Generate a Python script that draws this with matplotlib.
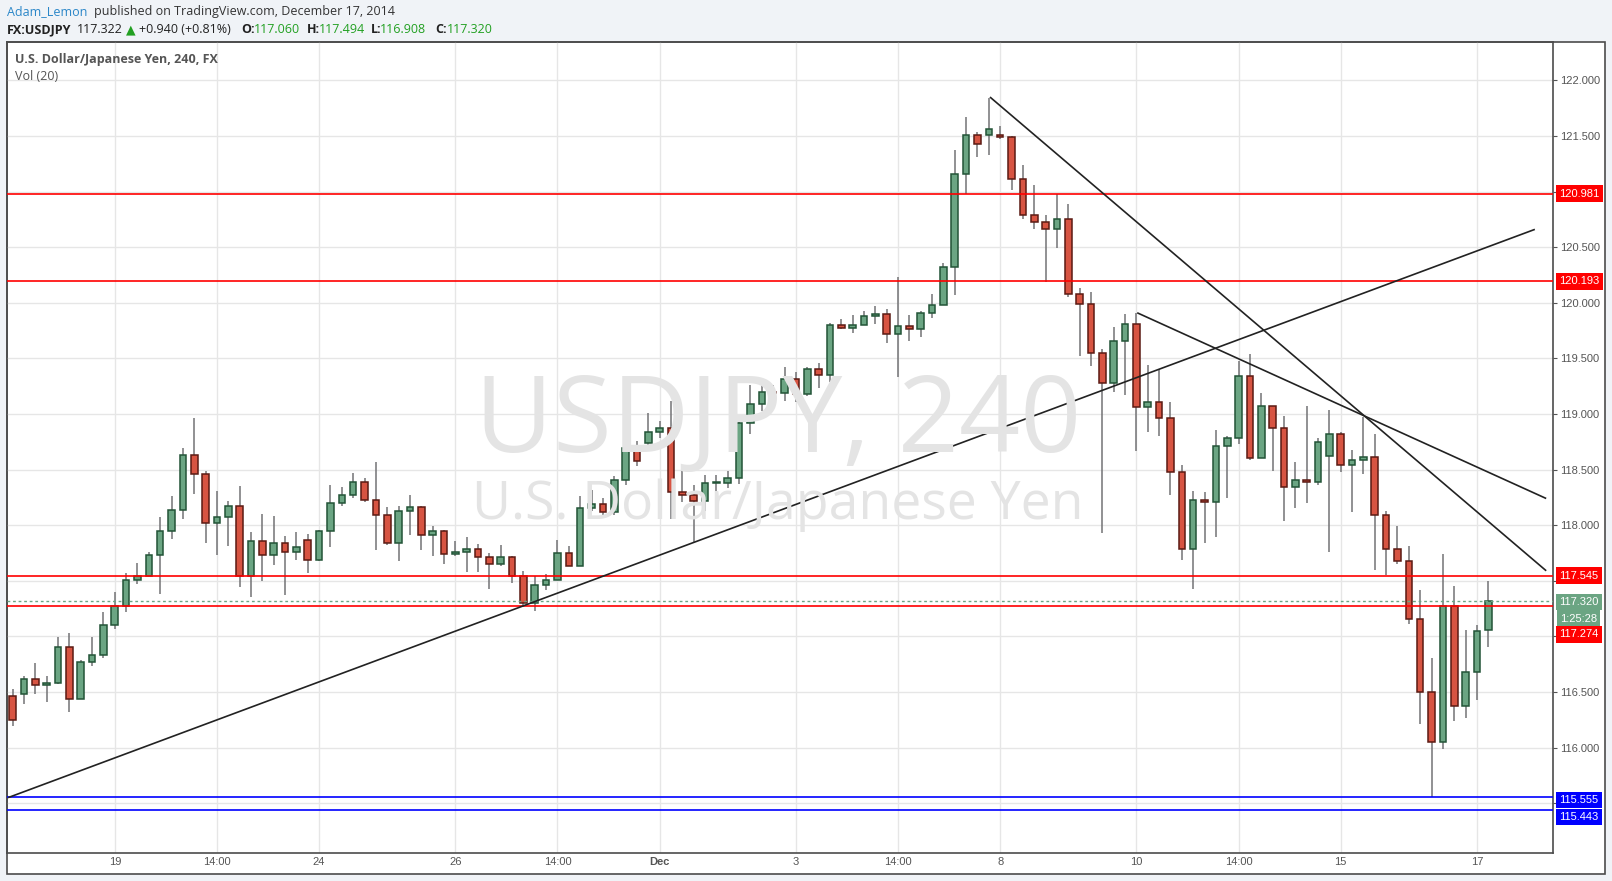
import matplotlib
matplotlib.use("Agg")
import matplotlib.pyplot as plt
import matplotlib.transforms as mtransforms
from matplotlib.patches import Rectangle

# 4h candles of USD/JPY (index 0 = leftmost candle)
opens = [116.46, 116.48, 116.62, 116.56, 116.58, 116.90, 116.44, 116.77, 116.83, 117.10,
         117.27, 117.51, 117.54, 117.73, 117.95, 118.14, 118.63, 118.46, 118.02, 118.07,
         118.17, 117.54, 117.86, 117.73, 117.84, 117.76, 117.87, 117.69, 117.95, 118.20,
         118.27, 118.39, 118.23, 118.09, 117.84, 118.13, 118.16, 117.91, 117.95, 117.74,
         117.76, 117.79, 117.71, 117.65, 117.71, 117.54, 117.30, 117.46, 117.51, 117.75,
         117.63, 118.15, 118.19, 118.12, 118.41, 118.69, 118.74, 118.84, 118.87, 118.30,
         118.27, 118.22, 118.38, 118.38, 118.42, 118.92, 119.09, 119.20, 119.19, 119.31,
         119.18, 119.40, 119.35, 119.80, 119.77, 119.80, 119.88, 119.90, 119.72, 119.79,
         119.76, 119.91, 119.98, 120.32, 121.16, 121.51, 121.51, 121.51, 121.49, 121.11,
         120.79, 120.73, 120.66, 120.75, 120.08, 119.99, 119.55, 119.28, 119.66, 119.81,
         119.06, 119.11, 118.96, 118.48, 117.79, 118.23, 118.21, 118.71, 118.78, 119.34,
         118.60, 119.07, 118.87, 118.34, 118.41, 118.39, 118.62, 118.82, 118.54, 118.59,
         118.61, 118.09, 117.79, 117.68, 117.16, 116.50, 116.05, 117.27, 116.37, 116.68,
         117.06]
highs = [116.53, 116.64, 116.76, 116.64, 116.99, 117.03, 116.79, 116.99, 117.22, 117.40,
         117.57, 117.66, 117.76, 118.07, 118.26, 118.69, 118.96, 118.49, 118.31, 118.22,
         118.35, 117.94, 118.10, 118.08, 117.90, 117.94, 117.92, 117.96, 118.36, 118.34,
         118.47, 118.42, 118.57, 118.16, 118.17, 118.27, 118.17, 117.99, 117.96, 117.86,
         117.89, 117.83, 117.75, 117.82, 117.72, 117.59, 117.54, 117.56, 117.87, 117.81,
         118.26, 118.32, 118.24, 118.44, 118.75, 118.76, 119.01, 118.94, 119.12, 118.51,
         118.36, 118.45, 118.45, 118.49, 118.93, 119.26, 119.27, 119.26, 119.42, 119.38,
         119.42, 119.46, 119.82, 119.85, 119.89, 119.93, 119.97, 119.94, 120.23, 119.89,
         119.93, 120.08, 120.36, 121.37, 121.67, 121.54, 121.84, 121.59, 121.50, 121.24,
         121.06, 120.79, 120.98, 120.89, 120.13, 120.10, 119.58, 119.78, 119.90, 119.91,
         119.44, 119.40, 119.11, 118.54, 118.31, 118.30, 118.86, 118.80, 119.48, 119.54,
         119.19, 119.07, 118.98, 118.57, 119.07, 118.78, 119.04, 118.84, 118.68, 118.97,
         118.82, 118.13, 117.99, 117.81, 117.42, 116.81, 117.74, 117.45, 117.06, 117.10,
         117.494]
lows = [116.19, 116.39, 116.48, 116.41, 116.57, 116.32, 116.44, 116.73, 116.81, 117.07,
        117.22, 117.47, 117.54, 117.38, 117.88, 118.06, 118.28, 117.84, 117.73, 117.81,
        117.44, 117.35, 117.50, 117.64, 117.37, 117.69, 117.57, 117.68, 117.80, 118.17,
        118.24, 118.21, 117.78, 117.82, 117.68, 117.91, 117.78, 117.72, 117.65, 117.72,
        117.58, 117.58, 117.43, 117.63, 117.48, 117.26, 117.23, 117.42, 117.51, 117.63,
        117.63, 118.13, 118.07, 118.09, 118.36, 118.53, 118.69, 118.78, 118.06, 118.21,
        117.85, 118.13, 118.22, 118.33, 118.37, 118.82, 119.03, 119.14, 119.12, 119.11,
        119.16, 119.23, 119.29, 119.76, 119.73, 119.80, 119.81, 119.64, 119.33, 119.66,
        119.69, 119.86, 119.98, 120.07, 120.98, 121.31, 121.33, 121.47, 121.01, 120.75,
        120.66, 120.19, 120.49, 120.05, 119.52, 119.43, 117.93, 119.20, 119.17, 118.67,
        118.84, 118.80, 118.27, 117.69, 117.43, 117.84, 117.89, 118.24, 118.73, 118.59,
        118.60, 118.49, 118.04, 118.15, 118.20, 118.36, 117.76, 118.48, 118.12, 118.46,
        117.60, 117.55, 117.65, 117.11, 116.21, 115.555, 115.99, 116.24, 116.27, 116.43,
        116.908]
closes = [116.25, 116.62, 116.56, 116.58, 116.90, 116.44, 116.77, 116.83, 117.10, 117.27,
          117.51, 117.54, 117.73, 117.95, 118.14, 118.63, 118.46, 118.02, 118.07, 118.17,
          117.54, 117.86, 117.73, 117.84, 117.76, 117.80, 117.69, 117.95, 118.20, 118.27,
          118.39, 118.23, 118.09, 117.84, 118.13, 118.16, 117.91, 117.95, 117.74, 117.76,
          117.79, 117.71, 117.65, 117.71, 117.54, 117.30, 117.46, 117.51, 117.75, 117.63,
          118.15, 118.19, 118.12, 118.41, 118.69, 118.58, 118.84, 118.87, 118.30, 118.27,
          118.22, 118.38, 118.385, 118.42, 118.92, 119.09, 119.20, 119.19, 119.31, 119.18,
          119.40, 119.35, 119.80, 119.77, 119.80, 119.88, 119.90, 119.72, 119.79, 119.76,
          119.91, 119.98, 120.32, 121.16, 121.51, 121.43, 121.56, 121.49, 121.11, 120.79,
          120.73, 120.66, 120.75, 120.08, 119.99, 119.55, 119.28, 119.66, 119.81, 119.06,
          119.11, 118.96, 118.48, 117.79, 118.23, 118.21, 118.71, 118.78, 119.34, 118.60,
          119.07, 118.87, 118.34, 118.41, 118.39, 118.75, 118.82, 118.54, 118.59, 118.61,
          118.09, 117.79, 117.68, 117.16, 116.50, 116.05, 117.27, 116.37, 116.68, 117.05,
          117.32]

# time axis labels (candle index -> text)
date_idx = [9, 18, 27, 39, 48, 57, 69, 78, 87, 99, 108, 117, 129]
date_lbl = ["19", "14:00", "24", "26", "14:00", "Dec", "3", "14:00", "8", "10", "14:00", "15", "17"]

# drawn levels
red_levels = [120.981, 120.193, 117.545, 117.274]
blue_levels = [115.555, 115.443]
last_price = 117.320

# trend lines: (start index, end index), (start price, end price)
trend_x = [(-0.4, 134.1), (86.1, 135.1), (99.07, 135.1)]
trend_y = [(115.55, 120.66), (121.85, 117.59), (119.91, 118.24)]

W, H = 1612, 881
UP, UP_EDGE = "#6ba583", "#225437"
DN, DN_EDGE = "#d75442", "#5b1a13"
WICK = "#737375"
TXT = "#555555"


def fx(px):
    return px / W


def fy(py):
    return 1 - py / H


fig = plt.figure(figsize=(W / 100, H / 100), dpi=100, facecolor="#f0f3f7")

# chart panel
fig.add_artist(Rectangle((fx(6.5), fy(874)), (1604.5 - 6.5) / W, (874 - 42) / H,
                         transform=fig.transFigure, facecolor="white",
                         edgecolor="#4c4c4c", linewidth=1.2, zorder=0))

ax = fig.add_axes([fx(6.5), fy(853), (1553 - 6.5) / W, (853 - 42) / H])
ax.set_xlim(-0.54, 135.7)
ax.set_ylim(115.052, 122.345)

# grid
yt = [115.5 + 0.5 * k for k in range(14)]
hidden = {115.5, 117.0, 117.5, 121.0}
ax.set_yticks(yt)
ax.set_yticklabels(["" if v in hidden else "%.3f" % v for v in yt])
ax.yaxis.tick_right()
ax.set_xticks(date_idx)
ax.set_xticklabels(date_lbl)
for lab, t in zip(ax.get_xticklabels(), date_lbl):
    if t == "Dec":
        lab.set_fontweight("bold")
ax.tick_params(axis="y", colors=TXT, labelsize=8, length=3, width=0.8, pad=2)
ax.tick_params(axis="x", colors=TXT, labelsize=8, length=0, pad=3)
for lab in ax.get_xticklabels() + ax.get_yticklabels():
    lab.set_fontfamily("Liberation Sans")
ax.grid(True, color="#e6e6e6", linewidth=1)
ax.set_axisbelow(True)
for s in ax.spines.values():
    s.set_color("#4c4c4c")
    s.set_linewidth(1.2)
ax.patch.set_alpha(0)

# watermark
fig.text(fx(778), fy(424), "USDJPY, 240", fontsize=77, color="#e4e4e4",
         family="Open Sans", ha="center", va="center", zorder=0.5)
fig.text(fx(778), fy(505), "U.S. Dollar/Japanese Yen", fontsize=38.5, color="#e4e4e4",
         family="Open Sans", ha="center", va="center", zorder=0.5)

# candles
for i in range(len(opens)):
    o, h, l, c = opens[i], highs[i], lows[i], closes[i]
    up = c >= o
    ax.vlines(i, l, h, color=WICK, linewidth=1.1, zorder=3)
    body = max(abs(c - o), 0.012)
    ax.bar(i, body, bottom=min(o, c), width=0.58, color=UP if up else DN,
           edgecolor=UP_EDGE if up else DN_EDGE, linewidth=1.1, zorder=4)

# levels
for v in red_levels:
    ax.axhline(v, color="#ff0000", linewidth=1.2, zorder=5)
for v in blue_levels:
    ax.axhline(v, color="#0000ff", linewidth=1.2, zorder=5)
ax.axhline(last_price, color=UP, linewidth=1, linestyle=(0, (2, 2)), zorder=5)

# trend lines
for xs, ys in zip(trend_x, trend_y):
    ax.plot(xs, ys, color="#222222", linewidth=1.2, zorder=6, solid_capstyle="butt")

# price boxes on the axis
tr = mtransforms.blended_transform_factory(ax.transAxes, ax.transData)
boxes = [(120.981, "120.981", "#ff0000"), (120.193, "120.193", "#ff0000"),
         (117.545, "117.545", "#ff0000"), (117.31, "117.320", UP),
         (117.16, "1:25:28", UP), (117.017, "117.274", "#ff0000"),
         (115.53, "115.555", "#0000ff"), (115.376, "115.443", "#0000ff")]
for y, t, col in boxes:
    xoff = 1.004 if t != "1:25:28" else 1.0045
    ax.text(xoff, y, t, transform=tr, ha="left", va="center", fontsize=8,
            family="Liberation Sans", color="white", clip_on=False, zorder=10,
            bbox=dict(boxstyle="square,pad=0.3", facecolor=col, edgecolor="none"))

# header
fig.text(fx(7), fy(11.5), "Adam_Lemon", fontsize=9, color="#2a86c8",
         family="Open Sans", va="center")
fig.text(fx(94), fy(11.5), "published on TradingView.com, December 17, 2014",
         fontsize=9, color="#333333", family="Open Sans", va="center")
GREEN = "#22a022"
hdr = [(7, "FX:USDJPY", "#222222", "bold"), (77, "117.322", "#222222", "normal"),
       (126, "\u25b2", GREEN, "normal"), (139, "+0.940 (+0.81%)", "#222222", "normal"),
       (241, "O:", "#222222", "bold"), (254, "117.060", GREEN, "normal"),
       (307, "H:", "#222222", "bold"), (319, "117.494", GREEN, "normal"),
       (371, "L:", "#222222", "bold"), (380, "116.908", GREEN, "normal"),
       (435, "C:", "#222222", "bold"), (447, "117.320", GREEN, "normal")]
for x, t, col, wt in hdr:
    fig.text(fx(x), fy(29.5), t, fontsize=9, color=col, fontweight=wt,
             family=["Open Sans", "DejaVu Sans"], va="center")

fig.text(fx(15), fy(59.5), "U.S. Dollar/Japanese Yen, 240, FX", fontsize=9,
         color=TXT, fontweight="bold", family="Open Sans", va="center")
fig.text(fx(15), fy(76.5), "Vol (20)", fontsize=9, color=TXT,
         family="Open Sans", va="center")

fig.savefig("out.png", dpi=100, facecolor=fig.get_facecolor())
